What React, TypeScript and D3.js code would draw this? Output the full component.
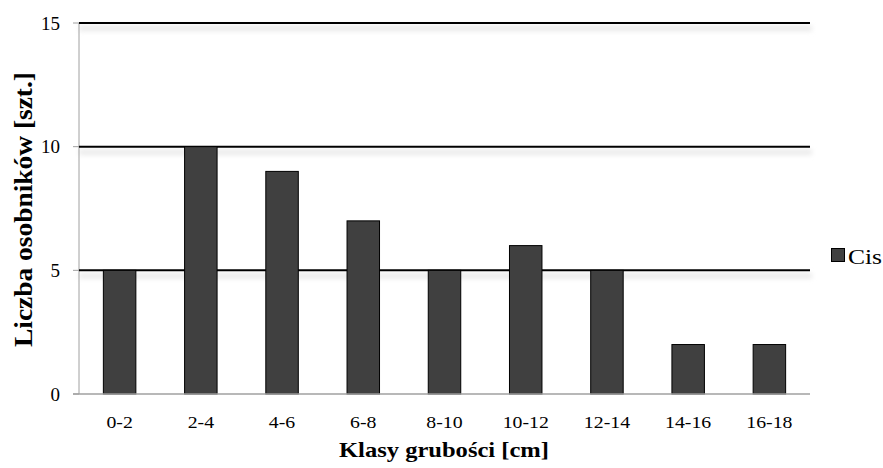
import React from "react";
import * as d3 from "d3";

const categories = ["0-2", "2-4", "4-6", "6-8", "8-10", "10-12", "12-14", "14-16", "16-18"];
const values = [5, 10, 9, 7, 5, 6, 5, 2, 2];
const yTicks = [0, 5, 10, 15];
const gridTicks = [5, 10, 15];
const seriesName = "Cis";
const xTitle = "Klasy grubości [cm]";
const yTitle = "Liczba osobników [szt.]";

const W = 883;
const H = 468;
const left = 79;
const right = 810;
const top = 23;
const bottom = 394;
const ts = { fontFamily: "'Liberation Serif', 'Times New Roman', serif" };

export default function App() {
  const x = d3.scaleBand<string>().domain(categories).range([left, right]).paddingInner(0.6).paddingOuter(0.3);
  const y = d3.scaleLinear().domain([0, 15]).range([bottom, top]);

  return (
    <svg width={W} height={H} style={{ position: "absolute", left: 0, top: 0, background: "#fff" }}>
      <defs>
        <filter id="sh" x="-5%" y="-300%" width="110%" height="700%">
          <feGaussianBlur stdDeviation="2.5" />
        </filter>
      </defs>
      <rect x={0} y={0} width={W} height={H} fill="#fff" />
      {gridTicks.map((t) => (
        <rect key={"s" + t} x={left} y={y(t) + 3} width={right - left + 2} height={5} fill="#e8e8e8" filter="url(#sh)" />
      ))}
      <line x1={left} x2={left} y1={top} y2={bottom} stroke="#a0a0a0" strokeWidth={1} />
      {yTicks.map((t) => (
        <line key={"tk" + t} x1={left - 6} x2={left} y1={y(t)} y2={y(t)} stroke="#a0a0a0" strokeWidth={1} />
      ))}
      {gridTicks.map((t) => (
        <line key={"g" + t} x1={left} x2={right} y1={y(t)} y2={y(t)} stroke="#000" strokeWidth={2} />
      ))}
      {categories.map((c, i) => (
        <rect
          key={c}
          x={x(c)!}
          y={y(values[i])}
          width={x.bandwidth()}
          height={y(0) - y(values[i])}
          fill="#404040"
          stroke="#000"
          strokeWidth={1}
        />
      ))}
      <line x1={left - 6} x2={right} y1={bottom} y2={bottom} stroke="#a0a0a0" strokeWidth={1.5} />
      {yTicks.map((t) => (
        <text key={"yl" + t} x={60} y={y(t) + 6.5} textAnchor="end" style={ts} fontSize={19} fill="#000">
          {t}
        </text>
      ))}
      {categories.map((c) => (
        <g key={"xl" + c} transform={`translate(${x(c)! + x.bandwidth() / 2},428) scale(1.2,1)`}>
          <text x={0} y={0} textAnchor="middle" style={ts} fontSize={16.5} fill="#000">
            {c}
          </text>
        </g>
      ))}
      <text
        x={444}
        y={457}
        textAnchor="middle"
        style={ts}
        fontWeight="bold"
        fontSize={21}
        textLength={210}
        lengthAdjust="spacingAndGlyphs"
        fill="#000"
      >
        {xTitle}
      </text>
      <g transform={`translate(32,209.5) rotate(-90)`}>
        <text
          x={0}
          y={0}
          textAnchor="middle"
          style={ts}
          fontWeight="bold"
          fontSize={26}
          textLength={275}
          lengthAdjust="spacingAndGlyphs"
          fill="#000"
        >
          {yTitle}
        </text>
      </g>
      <rect x={831.5} y={248.5} width={13} height={13} fill="#404040" stroke="#000" strokeWidth={1} />
      <text x={848} y={264} style={ts} fontSize={21} textLength={34} lengthAdjust="spacingAndGlyphs" fill="#000">
        {seriesName}
      </text>
    </svg>
  );
}
